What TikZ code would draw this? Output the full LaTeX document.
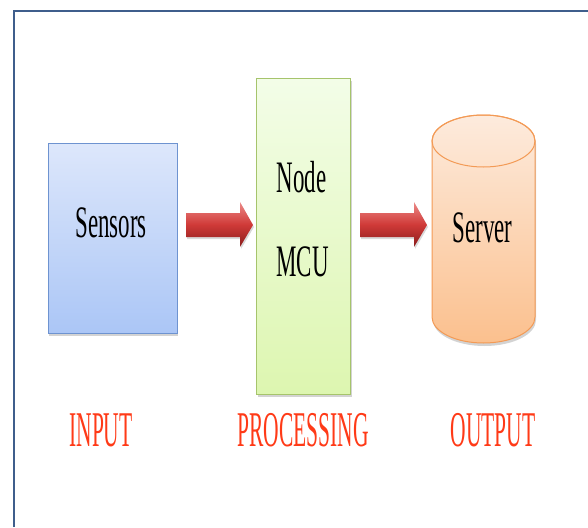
\documentclass[tikz,border=0pt]{standalone}
\usepackage{fontspec}
\usepackage{graphicx}
\usepackage{tikz}
\usetikzlibrary{shadows}
\setmainfont{Liberation Serif}
\definecolor{frameblue}{HTML}{3F5E8C}
\definecolor{senstop}{HTML}{DDE7FB}
\definecolor{sensbot}{HTML}{ABC6F6}
\definecolor{sensline}{HTML}{6E93D0}
\definecolor{mcutop}{HTML}{F3FDE8}
\definecolor{mcubot}{HTML}{DDF6B0}
\definecolor{mculine}{HTML}{A6C46C}
\definecolor{srvtop}{HTML}{FDEBDD}
\definecolor{srvbot}{HTML}{FBC08E}
\definecolor{srvline}{HTML}{F39A55}
\definecolor{arrtop}{HTML}{EC8A88}
\definecolor{arrmid}{HTML}{D03A38}
\definecolor{arrbot}{HTML}{8A1C1C}
\definecolor{stagered}{HTML}{FF3A17}
\newcommand{\bodytxt}[1]{\scalebox{.51}[1]{\fontsize{45}{45}\selectfont #1}}
\newcommand{\stagetxt}[1]{\scalebox{.43}[1]{\fontsize{50}{50}\selectfont #1}}

\begin{document}
\begin{tikzpicture}
            [x=1pt,y=-1pt,
            blockshadow/.style={drop shadow={shadow xshift=1pt,shadow yshift=-3pt,opacity=.35,fill=gray}},
            box/.style={rectangle,line width=1pt,blockshadow},
            blockarrow/.style={top color=arrtop,bottom color=arrbot,middle color=arrmid,draw=none,
                drop shadow={shadow xshift=1pt,shadow yshift=-2pt,opacity=.3,fill=gray}},
            stage/.style={text=stagered,inner sep=0pt}]
            \useasboundingbox (0,0) rectangle (588,527);
            % the frame
            \draw[frameblue,line width=2pt] (13.5,527) |- (588,11.5);
            % the three blocks
            \node[box,draw=sensline,top color=senstop,bottom color=sensbot,
                  minimum width=129pt,minimum height=190pt] (sens) at (112.5,238) {};
            \node[box,draw=mculine,top color=mcutop,bottom color=mcubot,
                  minimum width=94pt,minimum height=316pt] (mcu) at (303.5,236) {};
            % the server cylinder
            \coordinate (srv) at (483.5,229);
            \shade[top color=srvtop,bottom color=srvbot,draw=srvline,line width=1pt,blockshadow]
                (432,141) -- (432,317) arc[start angle=180,end angle=0,x radius=51.5,y radius=26]
                -- (535,141) arc[start angle=0,end angle=-180,x radius=51.5,y radius=26] -- cycle;
            \draw[srvline,line width=1pt] (483.5,141) ellipse[x radius=51.5,y radius=26];
            % texts in the blocks
            \node (senstxt) at (111,223) {\bodytxt{Sensors}};
            \node (nodetxt) at (301.5,177) {\bodytxt{Node}};
            \node (mcutxt) at (302.5,262) {\bodytxt{MCU}};
            \node (srvtxt) at (482.5,228) {\bodytxt{Server}};
            % the arrows
            \foreach \x in {186,360}
                \shade[blockarrow] (\x,213) -- ++(54,0) -- ++(0,-11) -- ++(13,23)
                    -- ++(-13,22) -- ++(0,-10) -- ++(-54,0) -- cycle;
            % stage names
            \node[stage] (input) at (101,430) {\stagetxt{INPUT}};
            \node[stage] (proc) at (303,430) {\stagetxt{PROCESSING}};
            \node[stage] (output) at (493,430) {\stagetxt{OUTPUT}};
        \end{tikzpicture}
\end{document}
